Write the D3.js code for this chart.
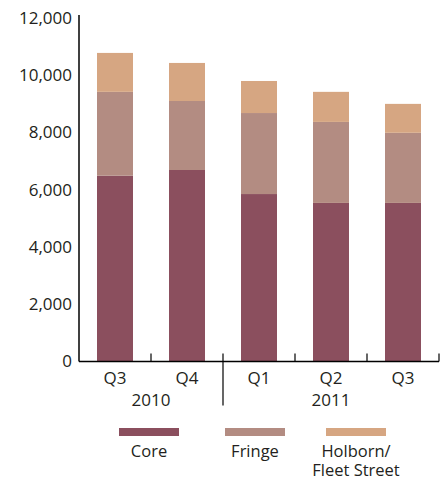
<!DOCTYPE html>
<html>
<head>
<meta charset="utf-8">
<script src="https://cdn.jsdelivr.net/npm/d3@7"></script>
<style>
  html, body { margin: 0; padding: 0; background: #fff; }
  svg { display: block; }
  text { font-family: "Open Sans", "Noto Sans", sans-serif; fill: #231f20; }
</style>
</head>
<body>
<svg id="chart" width="448" height="480"></svg>
<script>
// Quarterly figures by sub-market
const quarters = ["Q3", "Q4", "Q1", "Q2", "Q3"];
const years = ["2010", "2010", "2011", "2011", "2011"];
const core = [6490, 6690, 5850, 5540, 5540];
const fringe = [2930, 2410, 2830, 2830, 2450];
const holborn = [1360, 1330, 1120, 1050, 1010];
const seriesNames = ["Core", "Fringe", "Holborn/\nFleet Street"];
const seriesColors = ["#8b4f5e", "#b38c82", "#d6a682"];
const yTicks = [0, 2000, 4000, 6000, 8000, 10000, 12000];

const svg = d3.select("#chart");
const plotLeft = 79, plotRight = 439, plotTop = 18, plotBottom = 361.5;

const keys = ["core", "fringe", "holborn"];
const rows = quarters.map((q, i) => ({ id: i, core: core[i], fringe: fringe[i], holborn: holborn[i] }));
const stacked = d3.stack().keys(keys)(rows);

const x = d3.scaleBand().domain(d3.range(quarters.length)).range([plotLeft, plotRight]).paddingInner(0.5).paddingOuter(0.25);
const xOuter = d3.scaleBand().domain(d3.range(quarters.length)).range([plotLeft, plotRight]);
const y = d3.scaleLinear().domain([0, 12000]).range([plotBottom, plotTop]);

// Bars
svg.append("g").selectAll("g").data(stacked).join("g")
  .attr("fill", (d, i) => seriesColors[i])
  .selectAll("rect").data(d => d).join("rect")
  .attr("x", d => x(d.data.id))
  .attr("width", x.bandwidth())
  .attr("y", d => y(d[1]))
  .attr("height", d => y(d[0]) - y(d[1]));

// Y axis
const yAxis = d3.axisLeft(y).tickValues(yTicks).tickSize(0).tickPadding(7).tickFormat(d3.format(","));
const gy = svg.append("g").attr("transform", `translate(${plotLeft},0)`).call(yAxis);
gy.select(".domain").attr("stroke", "#000").attr("stroke-width", 1.5).attr("d", `M0,15V${plotBottom}`);
gy.selectAll("text").attr("font-size", 17).attr("fill", "#231f20").style("font-family", '"Open Sans", sans-serif');

// X axis baseline and ticks
const gx = svg.append("g");
gx.append("line").attr("x1", plotLeft).attr("x2", plotRight).attr("y1", plotBottom).attr("y2", plotBottom)
  .attr("stroke", "#000").attr("stroke-width", 1.5);
const boundaries = d3.range(quarters.length + 1).map(i => i < quarters.length ? xOuter(i) : plotRight);
gx.selectAll("line.tick").data(boundaries.slice(1)).join("line").attr("class", "tick")
  .attr("x1", d => d).attr("x2", d => d)
  .attr("y1", (d, i) => i === 1 ? plotBottom + 44 : plotBottom)
  .attr("y2", plotBottom - 8)
  .attr("stroke", "#000").attr("stroke-width", 1.2);

gx.selectAll("text.q").data(quarters).join("text").attr("class", "q")
  .attr("x", (d, i) => xOuter(i) + xOuter.bandwidth() / 2)
  .attr("y", 384).attr("text-anchor", "middle").attr("font-size", 17).text(d => d);

// Year labels centred under their quarters
const yearGroups = d3.groups(d3.range(years.length), i => years[i]);
gx.selectAll("text.yr").data(yearGroups).join("text").attr("class", "yr")
  .attr("x", d => (xOuter(d[1][0]) + xOuter(d[1][d[1].length - 1]) + xOuter.bandwidth()) / 2)
  .attr("y", 406).attr("text-anchor", "middle").attr("font-size", 17).text(d => d[0]);

// Legend
const legendX = [149, 255, 356];
const lg = svg.append("g").selectAll("g").data(seriesNames).join("g")
  .attr("transform", (d, i) => `translate(${legendX[i]},0)`);
lg.append("rect").attr("x", -30).attr("y", 428).attr("width", 60).attr("height", 8)
  .attr("fill", (d, i) => seriesColors[i]);
lg.selectAll("text").data(d => d.split("\n")).join("text")
  .attr("text-anchor", "middle").attr("font-size", 16.5)
  .attr("x", 0).attr("y", (d, i) => 457 + i * 19).text(d => d);
</script>
</body>
</html>
